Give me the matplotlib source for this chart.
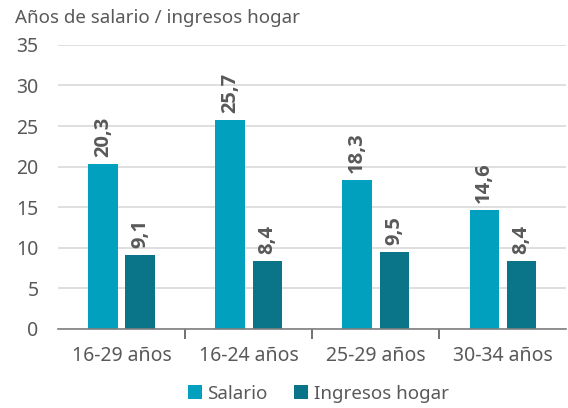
import matplotlib.pyplot as plt
import numpy as np

plt.rcParams['font.family'] = ['Noto Sans', 'DejaVu Sans']

categories = ["16-29 años", "16-24 años", "25-29 años", "30-34 años"]
salario = [20.3, 25.7, 18.3, 14.6]
ingresos = [9.1, 8.4, 9.5, 8.4]
yticks = [0, 5, 10, 15, 20, 25, 30, 35]

c_sal = "#00a0be"
c_ing = "#0a7489"
txt = "#595959"

fig = plt.figure(figsize=(5.68, 4.08), dpi=100)
ax = fig.add_axes([0.102, 0.194, 0.895, 0.696])

x = np.arange(len(categories))
w = 0.23
off = 0.146
b1 = ax.bar(x - off, salario, w, color=c_sal, label="Salario")
b2 = ax.bar(x + off, ingresos, w, color=c_ing, label="Ingresos hogar")

for bars, vals in ((b1, salario), (b2, ingresos)):
    for b, v in zip(bars, vals):
        ax.annotate(f"{v:.1f}".replace(".", ","),
                    (b.get_x() + b.get_width() / 2, v),
                    xytext=(0, 5), textcoords="offset points",
                    rotation=90, ha="center", va="bottom",
                    fontsize=14.5, fontweight="bold", color=txt,
                    family=["Open Sans", "DejaVu Sans"])

ax.set_xlim(-0.5, len(categories) - 0.5)
ax.set_ylim(0, 35)
ax.set_yticks(yticks)
ax.set_yticklabels([str(t) for t in yticks])
ax.yaxis.grid(True, color="#d9d9d9", linewidth=1.2)
ax.set_axisbelow(True)

ax.set_xticks(x)
ax.set_xticklabels(categories)
ax.set_xticks(np.arange(0.5, len(categories) - 1, 1), minor=True)
ax.tick_params(axis="x", which="major", length=0, pad=12, labelsize=14, colors=txt)
ax.tick_params(axis="x", which="minor", length=7, width=1.2, color="#595959")
ax.tick_params(axis="y", length=0, pad=14, labelsize=14, colors=txt)

for s in ("top", "right", "left"):
    ax.spines[s].set_visible(False)
ax.spines["bottom"].set_color("#7f7f7f")
ax.spines["bottom"].set_linewidth(1.2)

fig.text(0.026, 0.955, "Años de salario / ingresos hogar", fontsize=13.5,
         color=txt, va="center", ha="left")

fig.legend(handles=[b1, b2], loc="center", bbox_to_anchor=(0.56, 0.035),
           ncol=2, frameon=False, fontsize=13.5, handlelength=0.75,
           handleheight=0.75, handletextpad=0.3, columnspacing=1.4,
           labelcolor=txt)

fig.savefig("out.png", dpi=100)
